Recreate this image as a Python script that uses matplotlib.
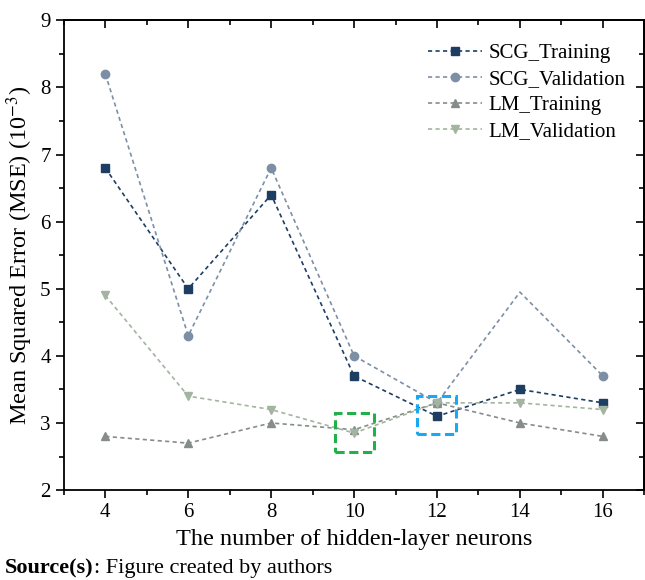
import matplotlib.pyplot as plt
from matplotlib.patches import Rectangle
from matplotlib.ticker import MultipleLocator

plt.rcParams['font.family'] = ['Liberation Serif', 'DejaVu Serif']
plt.rcParams['mathtext.fontset'] = 'stix'

neurons = [4, 6, 8, 10, 12, 14, 16]
scg_train = [6.8, 5.0, 6.4, 3.7, 3.1, 3.5, 3.3]
scg_val = [8.2, 4.3, 6.8, 4.0, 3.3, 4.95, 3.7]
lm_train = [2.8, 2.7, 3.0, 2.9, 3.3, 3.0, 2.8]
lm_val = [4.9, 3.4, 3.2, 2.85, 3.3, 3.3, 3.2]

fig = plt.figure(figsize=(6.45, 5.8), dpi=100)
ax = fig.add_axes([0.099, 0.155, 0.9, 0.81])

# (values, marker, colour, label, which points get a marker)
styles = [
    (scg_train, 's', '#1d3d63', 'SCG_Training', None),
    (scg_val, 'o', '#7d8fa5', 'SCG_Validation', [0, 1, 2, 3, 4, 6]),
    (lm_train, '^', '#858c8a', 'LM_Training', None),
    (lm_val, 'v', '#a3b4a0', 'LM_Validation', None),
]
for vals, mk, col, lab, every in styles:
    ax.plot(neurons, vals, linestyle=(0, (2.5, 2)), linewidth=1.2, color=col,
            marker=mk, markersize=6, markevery=every, label=lab)

# highlight boxes around the best configurations
ax.add_patch(Rectangle((9.53, 2.57), 0.96, 0.58, fill=False, edgecolor='#22b04a',
                       linestyle=(0, (3, 1.5)), linewidth=2.2, zorder=5))
ax.add_patch(Rectangle((11.52, 2.83), 0.94, 0.57, fill=False, edgecolor='#1aa8f0',
                       linestyle=(0, (3, 1.5)), linewidth=2.2, zorder=5))

ax.set_xlim(3, 17)
ax.set_ylim(2, 9)
ax.xaxis.set_major_locator(MultipleLocator(2))
ax.xaxis.set_minor_locator(MultipleLocator(1))
ax.yaxis.set_major_locator(MultipleLocator(1))
ax.yaxis.set_minor_locator(MultipleLocator(0.5))
ax.tick_params(which='both', direction='out', labelsize=15, width=1.2)
ax.tick_params(which='major', length=6)
ax.tick_params(which='minor', length=3.5)
for s in ax.spines.values():
    s.set_linewidth(1.3)

# mirrored inward ticks on top and right
sec_x = ax.secondary_xaxis('top')
sec_x.xaxis.set_major_locator(MultipleLocator(2))
sec_x.xaxis.set_minor_locator(MultipleLocator(1))
sec_x.set_xticklabels([])
sec_y = ax.secondary_yaxis('right')
sec_y.yaxis.set_major_locator(MultipleLocator(1))
sec_y.yaxis.set_minor_locator(MultipleLocator(0.5))
sec_y.set_yticklabels([])
for sec in (sec_x, sec_y):
    sec.tick_params(which='both', direction='in', width=1.2)
    sec.tick_params(which='major', length=6)
    sec.tick_params(which='minor', length=3.5)
    for s in sec.spines.values():
        s.set_linewidth(1.3)

ax.set_xlabel('The number of hidden-layer neurons', fontsize=17.5, labelpad=5)
ax.set_ylabel('Mean Squared Error (MSE) (10$^{-3}$)', fontsize=17.5, labelpad=4)

ax.legend(loc='upper right', frameon=False, fontsize=15, handlelength=2.6,
          handletextpad=0.3, labelspacing=0.3, bbox_to_anchor=(1.0, 0.99))

src = fig.text(0.008, 0.012, 'Source(s)', fontsize=16, fontweight='bold')
ax.annotate(': Figure created by authors', xy=(1, 0), xycoords=src,
            va='bottom', ha='left', fontsize=16)

fig.savefig('out.png', dpi=100)
